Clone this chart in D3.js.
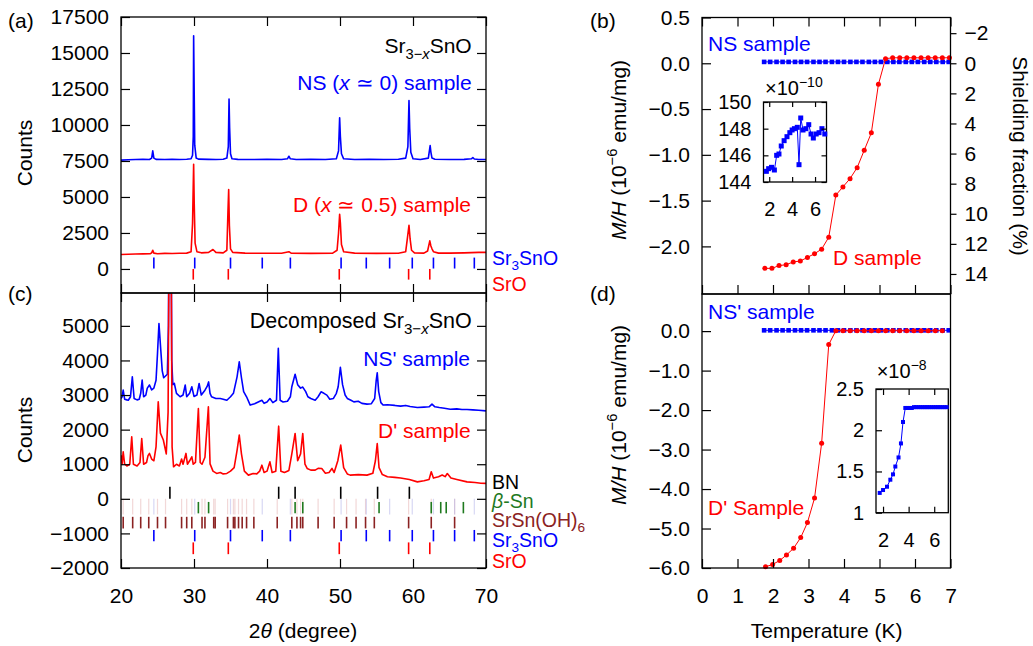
<!DOCTYPE html>
<html>
<head>
<meta charset="utf-8">
<script src="https://cdn.jsdelivr.net/npm/d3@7"></script>
<style>
  body { margin: 0; background: #fff; }
  svg text { font-family: "Liberation Sans", Arial, sans-serif; }
</style>
</head>
<body>
<svg id="chart" width="1033" height="646"></svg>
<script>
// ---- XRD data (2theta, counts) ----
const xrdNS = [[20,7560],[21,7590],[22,7600],[23,7610],[23.9,7600],[24.2,7700],[24.35,8200],[24.5,7700],[24.8,7610],[26,7600],[27,7620],[28,7600],[29,7620],[29.6,7650],[29.8,7900],[29.9,9200],[29.95,16200],[30.03,12100],[30.1,8600],[30.3,7700],[30.6,7630],[32,7610],[33,7600],[34,7620],[34.5,7700],[34.7,8500],[34.8,11800],[34.88,9800],[35.0,8000],[35.2,7650],[36,7610],[38,7600],[40,7610],[42,7600],[42.8,7650],[43.0,7830],[43.2,7650],[44,7600],[46,7610],[48,7600],[49.5,7650],[49.8,8200],[49.95,10500],[50.05,9200],[50.2,8000],[50.5,7650],[52,7600],[54,7610],[56,7600],[58,7620],[59.0,7700],[59.3,8500],[59.45,11700],[59.55,9750],[59.7,8100],[60,7650],[61,7600],[62.1,7700],[62.35,8570],[62.45,8120],[62.6,7700],[63,7620],[65,7600],[67,7610],[68.0,7650],[68.2,7740],[68.4,7640],[69,7600],[70,7600]];
const xrdD = [[20,1000],[21,1020],[22,1040],[23,1050],[24,1060],[24.2,1120],[24.35,1300],[24.5,1100],[25,1060],[26,1080],[27,1070],[28,1090],[29,1100],[29.6,1200],[29.8,3150],[29.95,7270],[30.03,4540],[30.15,1800],[30.4,1200],[31,1120],[32,1150],[32.6,1350],[33,1150],[34,1120],[34.5,1300],[34.65,3960],[34.75,5510],[34.85,3000],[35.0,1400],[35.3,1150],[37,1100],[40,1090],[42,1090],[43.0,1200],[43.3,1100],[46,1080],[49,1100],[49.6,1300],[49.8,2500],[49.95,3800],[50.05,3200],[50.2,1700],[50.5,1200],[52,1100],[55,1080],[58,1090],[59.0,1200],[59.2,2000],[59.45,3035],[59.6,2100],[59.8,1300],[60.2,1120],[61.5,1100],[62.0,1250],[62.3,1950],[62.45,1600],[62.6,1400],[62.8,1200],[63.5,1100],[65,1100],[67,1120],[69,1150],[70,1150]];
const xrdNSp = [[20.0,2900],[20.15,2950],[20.3,3142],[20.5,2880],[20.8,2860],[21.0,2850],[21.3,2950],[21.55,3530],[21.8,2900],[22.2,2860],[22.5,2880],[22.7,3050],[22.9,3430],[23.1,2950],[23.4,3000],[23.6,3200],[23.9,3290],[24.2,3150],[24.5,3200],[24.8,3430],[25.0,4200],[25.2,5070],[25.45,4300],[25.65,3700],[25.85,3500],[26.1,3550],[26.35,3600],[26.5,5000],[26.6,9000],[26.85,9000],[26.95,4000],[27.1,3300],[27.3,3340],[27.6,3050],[28.1,2950],[28.5,3000],[28.8,3290],[29.0,2950],[29.4,3050],[29.7,3240],[30.0,2960],[30.4,3000],[30.7,3335],[31.0,3000],[31.5,3140],[31.8,3250],[32.0,3380],[32.2,3050],[32.4,2950],[33.0,2900],[33.6,2900],[34.0,2880],[34.5,2850],[35.0,2950],[35.4,3050],[35.9,3526],[36.2,3960],[36.5,3500],[36.8,3100],[37.2,2950],[37.7,2710],[38.3,2750],[38.8,2800],[39.3,2850],[39.6,2760],[40.0,2800],[40.4,2900],[40.8,2780],[41.3,2850],[41.55,4350],[41.8,2850],[42.2,2800],[42.8,2820],[43.2,2950],[43.4,3240],[43.85,3600],[44.2,3300],[44.6,3200],[44.9,3230],[45.3,3100],[45.6,2950],[46.0,2900],[46.6,2850],[47.0,2950],[47.4,3093],[47.8,3050],[48.2,2998],[48.6,2880],[49.1,2902],[49.5,3050],[49.75,3240],[50.05,3800],[50.35,3300],[50.7,3000],[51.0,2902],[51.5,2850],[51.9,2803],[52.5,2820],[53.0,2760],[53.7,2737],[54.3,2750],[54.75,2900],[54.95,3400],[55.1,3640],[55.3,3100],[55.6,2780],[55.9,2710],[56.5,2720],[57.5,2700],[58.3,2680],[59.0,2700],[59.6,2670],[60.6,2640],[61.5,2650],[62.2,2660],[62.6,2737],[63.0,2660],[63.6,2640],[64.3,2620],[65.1,2590],[66.0,2600],[66.7,2580],[67.4,2583],[68.2,2570],[69.0,2560],[70.0,2543]];
const xrdDp = [[20.0,1263],[20.15,1000],[20.3,1360],[20.5,1000],[20.8,950],[21.2,1000],[21.47,1793],[21.7,1000],[22.2,950],[22.6,1050],[22.84,1745],[23.1,1000],[23.5,1050],[23.7,1250],[23.9,1312],[24.2,1150],[24.5,1100],[24.8,1500],[25.1,2803],[25.4,1900],[25.8,1700],[26.2,1300],[26.45,2500],[26.6,8000],[26.85,8000],[27.0,1500],[27.2,925],[27.6,1000],[28.0,950],[28.3,1150],[28.5,1000],[28.9,1312],[29.1,1000],[29.4,1100],[29.7,1215],[29.9,1000],[30.2,1050],[30.6,2612],[30.85,1050],[31.1,1000],[31.5,1200],[31.97,2659],[32.2,1010],[32.6,800],[33.1,734],[33.6,760],[34.0,720],[34.5,734],[35.0,800],[35.5,900],[35.9,1400],[36.2,1841],[36.5,1300],[36.9,800],[37.45,685],[38.1,734],[38.6,720],[39.0,800],[39.3,973],[39.6,760],[40.0,800],[40.4,1069],[40.7,760],[41.2,800],[41.6,2100],[41.9,800],[42.4,760],[43.0,820],[43.4,1300],[43.85,1890],[44.2,1100],[44.6,1300],[44.9,1890],[45.2,1000],[45.5,878],[46.0,830],[46.6,830],[47.0,880],[47.5,878],[48.0,740],[48.5,760],[48.9,878],[49.2,760],[49.7,1100],[50.1,1552],[50.5,900],[51.0,720],[51.4,685],[52.5,700],[53.7,685],[54.5,740],[54.85,1100],[55.1,1600],[55.35,900],[55.8,700],[56.5,636],[57.5,620],[58.3,600],[59.5,560],[60.6,490],[61.5,520],[62.2,560],[62.5,780],[62.8,600],[63.5,640],[64.0,690],[64.4,640],[64.7,730],[65.2,600],[66.0,560],[67.4,490],[68.5,470],[69.3,450],[70.0,445]];

// reference reflection positions (2theta)
const refSr3SnO = [24.5, 30.1, 35.0, 39.35, 43.2, 50.15, 53.6, 56.8, 59.9, 62.8, 65.7, 68.4];
const refSrO = [29.9, 34.7, 49.9, 59.4, 62.3];
const refBN = [26.7, 41.6, 43.85, 50.1, 55.15, 59.5];
const refBetaSn = [30.6, 32.0, 43.85, 44.9, 55.35, 62.5, 63.8, 64.55, 66.9];
const refSrSnOH6 = [20.3, 21.6, 22.7, 23.8, 25.0, 26.1, 28.3, 29.0, 29.7, 31.1, 31.5, 32.7, 32.9, 34.6, 35.4, 35.6, 36.1, 36.6, 37.2, 38.2, 41.4, 43.4, 44.1, 44.6, 44.9, 47.0, 49.2, 50.9, 52.2, 53.5, 54.7, 59.4, 62.5, 65.7];

// ---- magnetisation data ----
const tempNS = [1.75,1.92,2.10,2.27,2.44,2.62,2.79,2.96,3.14,3.31,3.48,3.66,3.83,4.00,4.18,4.35,4.52,4.70,4.87,5.04,5.22,5.39,5.56,5.74,5.91,6.08,6.26,6.43,6.60,6.78,6.95];
const mhNS = [0.015,0.015,0.015,0.015,0.015,0.015,0.015,0.015,0.015,0.015,0.015,0.015,0.015,0.015,0.015,0.015,0.015,0.015,0.015,0.015,0.015,0.015,0.015,0.015,0.015,0.015,0.015,0.015,0.015,0.015,0.015];
const tempD = [1.77,1.97,2.17,2.37,2.57,2.77,2.97,3.17,3.37,3.57,3.77,3.97,4.17,4.37,4.57,4.77,4.97,5.17,5.37,5.57,5.77,5.97,6.17,6.37,6.57,6.77,6.97];
const mhD = [-2.24,-2.24,-2.21,-2.20,-2.17,-2.16,-2.12,-2.08,-2.03,-1.90,-1.44,-1.35,-1.26,-1.14,-0.95,-0.76,-0.23,0.05,0.06,0.06,0.06,0.06,0.06,0.06,0.06,0.06,0.06];
const tempNSp = [1.75,1.92,2.10,2.27,2.44,2.62,2.79,2.96,3.14,3.31,3.48,3.66,3.83,4.00,4.18,4.35,4.52,4.70,4.87,5.04,5.22,5.39,5.56,5.74,5.91,6.08,6.26,6.43,6.60,6.78,6.95];
const mhNSp = [0.02,0.02,0.02,0.02,0.02,0.02,0.02,0.02,0.02,0.02,0.02,0.02,0.02,0.02,0.02,0.02,0.02,0.02,0.02,0.02,0.02,0.02,0.02,0.02,0.02,0.02,0.02,0.02,0.02,0.02,0.02];
const tempDp = [1.79,1.99,2.19,2.38,2.58,2.78,2.97,3.17,3.37,3.57,3.77,3.97,4.17,4.37,4.57,4.77,4.97,5.17,5.37,5.57,5.77,5.97,6.17,6.37,6.57,6.77];
const mhDp = [-5.97,-5.91,-5.81,-5.67,-5.50,-5.23,-4.85,-4.23,-2.84,-0.34,0.01,0.01,0.01,0.01,0.01,0.01,0.01,0.01,0.01,0.01,0.01,0.01,0.01,0.01,0.01,0.01];
// insets (NS: x1e-10, NS': x1e-8 emu)
const insetNSTemp = [1.75,1.95,2.2,2.45,2.65,2.85,3.05,3.3,3.55,3.8,4.0,4.2,4.45,4.6,4.75,4.95,5.2,5.45,5.65,5.85,6.1,6.35,6.6,6.85];
const insetNSVal = [144.8,145.0,145.1,144.9,146.0,146.1,146.7,147.1,147.4,147.7,147.9,148.0,148.1,145.3,148.8,147.9,148.0,148.3,147.6,147.3,147.6,147.7,148.0,147.6];
const insetNSpTemp = [1.74,2.0,2.31,2.57,2.78,2.96,3.21,3.40,3.56,3.74,3.91,4.08,4.25,4.42,4.59,4.76,4.93,5.10,5.27,5.44,5.61,5.78,5.95,6.12,6.29,6.46,6.63,6.80,6.97];
const insetNSpVal = [1.24,1.275,1.315,1.40,1.465,1.56,1.67,1.84,2.10,2.27,2.27,2.27,2.27,2.28,2.28,2.28,2.28,2.28,2.28,2.28,2.28,2.28,2.28,2.28,2.28,2.28,2.28,2.28,2.28];

// ---- tick values ----
const ticksCountsA = [0, 2500, 5000, 7500, 10000, 12500, 15000, 17500];
const ticksCountsC = [-2000, -1000, 0, 1000, 2000, 3000, 4000, 5000];
const ticks2Theta = [20, 30, 40, 50, 60, 70];
const ticksMHb = [0.5, 0.0, -0.5, -1.0, -1.5, -2.0];
const ticksShield = [-2, 0, 2, 4, 6, 8, 10, 12, 14];
const ticksMHd = [0, -1, -2, -3, -4, -5, -6];
const ticksTemp = [0, 1, 2, 3, 4, 5, 6, 7];
const ticksInnerT = [2, 4, 6];
const ticksInsetB = [144, 146, 148, 150];
const ticksInsetD = [1, 1.5, 2, 2.5];

const BLUE = "#0000ff", RED = "#ff0000", GREEN = "#1f7a1f", BROWN = "#8b2222";
const SHIELD_K = 6.084; // % shielding per 1e-6 emu/mg
const SIDE_FS = 19.5;   // phase labels right of (a)/(c)

const svg = d3.select("#chart");

// panels
const P = {
    a: { x0: 121, x1: 486, y0: 17, y1: 293 },
    c: { x0: 121, x1: 486, y0: 293, y1: 568 },
    b: { x0: 702, x1: 950.5, y0: 17.5, y1: 294 },
    d: { x0: 702, x1: 950.5, y0: 294, y1: 568 },
    ib: { x0: 763.5, x1: 826.5, y0: 102, y1: 182 },
    id: { x0: 876, x1: 948.3, y0: 389, y1: 512.7 }
};

const x2t = d3.scaleLinear().domain([20, 70]).range([P.a.x0, P.a.x1]);
const yA = d3.scaleLinear().domain([-1670, 17500]).range([P.a.y1, P.a.y0]);
const yC = d3.scaleLinear().domain([-2000, 5950]).range([P.c.y1, P.c.y0]);
const xT = d3.scaleLinear().domain([0, 7]).range([P.b.x0, P.b.x1]);
const yB = d3.scaleLinear().domain([-2.52, 0.5]).range([P.b.y1, P.b.y0]);
const yR = d3.scaleLinear().domain([2.52 * SHIELD_K, -0.5 * SHIELD_K]).range([P.b.y1, P.b.y0]);
const yD = d3.scaleLinear().domain([-6, 0.94]).range([P.d.y1, P.d.y0]);
const xIB = d3.scaleLinear().domain([1.5, 7.0]).range([P.ib.x0, P.ib.x1]);
const yIB = d3.scaleLinear().domain([144, 150]).range([P.ib.y1, P.ib.y0]);
const xID = d3.scaleLinear().domain([1.45, 7.1]).range([P.id.x0, P.id.x1]);
const yID = d3.scaleLinear().domain([1, 2.5]).range([P.id.y1, P.id.y0]);

const defs = svg.append("defs");
["a", "c"].forEach(k => {
    defs.append("clipPath").attr("id", "clip-" + k).append("rect")
        .attr("x", P[k].x0).attr("y", P[k].y0)
        .attr("width", P[k].x1 - P[k].x0).attr("height", P[k].y1 - P[k].y0);
});

// ---- helpers ----
function frame(p, fill) {
    svg.append("rect")
        .attr("x", p.x0).attr("y", p.y0)
        .attr("width", p.x1 - p.x0).attr("height", p.y1 - p.y0)
        .attr("fill", fill || "none").attr("stroke", "#000").attr("stroke-width", 1.3);
}

function addAxis(gen, tx, ty, fs) {
    const g = svg.append("g").attr("transform", `translate(${tx},${ty})`).call(gen);
    g.select(".domain").remove();
    g.attr("font-family", "Liberation Sans, Arial, sans-serif").attr("font-size", fs || 21);
    g.selectAll("line").attr("stroke", "#000").attr("stroke-width", 1.2);
    g.selectAll("text").attr("fill", "#000");
    return g;
}
const noLabel = () => "";

// text with sub/superscripts and italics
function rich(x, y, parts, opt = {}) {
    const fs = opt.fs || 21;
    const t = svg.append("text").attr("x", x).attr("y", y)
        .attr("font-size", fs).attr("fill", opt.fill || "#000")
        .attr("text-anchor", opt.anchor || "start");
    if (opt.rotate) t.attr("transform", `rotate(${opt.rotate},${x},${y})`);
    let cur = 0;
    parts.forEach(p => {
        if (typeof p === "string") p = { t: p };
        const shift = p.sub ? 0.28 * fs : p.sup ? -0.42 * fs : 0;
        const ts = t.append("tspan").attr("dy", shift - cur).text(p.t);
        if (p.sub || p.sup) ts.attr("font-size", fs * 0.7);
        if (p.i) ts.attr("font-style", "italic");
        cur = shift;
    });
    return t;
}

function trace(data, yScale, color, clip) {
    svg.append("path")
        .datum(data)
        .attr("clip-path", `url(#clip-${clip})`)
        .attr("fill", "none").attr("stroke", color).attr("stroke-width", 1.6)
        .attr("stroke-linejoin", "round")
        .attr("d", d3.line().x(d => x2t(d[0])).y(d => yScale(d[1])));
}

function refTicks(pos, yScale, lo, hi, color, width, opacity) {
    svg.append("g").selectAll("line").data(pos).enter().append("line")
        .attr("x1", d => x2t(d)).attr("x2", d => x2t(d))
        .attr("y1", yScale(hi)).attr("y2", yScale(lo))
        .attr("stroke", color).attr("stroke-width", width || 1.6)
        .attr("opacity", opacity == null ? 1 : opacity);
}

function series(ts, vs, xs, ys, color, shape, size) {
    const pts = ts.map((t, i) => [t, vs[i]]);
    const g = svg.append("g");
    g.append("path").datum(pts)
        .attr("fill", "none").attr("stroke", color).attr("stroke-width", 1)
        .attr("d", d3.line().x(d => xs(d[0])).y(d => ys(d[1])));
    if (shape === "square") {
        g.selectAll("rect").data(pts).enter().append("rect")
            .attr("x", d => xs(d[0]) - size / 2).attr("y", d => ys(d[1]) - size / 2)
            .attr("width", size).attr("height", size).attr("fill", color);
    } else {
        g.selectAll("circle").data(pts).enter().append("circle")
            .attr("cx", d => xs(d[0])).attr("cy", d => ys(d[1]))
            .attr("r", size).attr("fill", color);
    }
}

// ---- (a) XRD ----
trace(xrdNS, yA, BLUE, "a");
trace(xrdD, yA, RED, "a");
refTicks(refSr3SnO, yA, 30, 790, BLUE);
refTicks(refSrO, yA, -740, 0, RED);

// ---- (c) XRD decomposed ----
trace(xrdNSp, yC, BLUE, "c");
trace(xrdDp, yC, RED, "c");
refTicks(refSrSnOH6, yC, -450, 0, "#e3a9a9", 1.2, 0.45);
refTicks(refSr3SnO, yC, -450, 0, "#a9a9e8", 1.2, 0.45);
refTicks(refBN, yC, 0, 350, "#000");
refTicks(refBetaSn, yC, -420, -90, GREEN);
refTicks(refSrSnOH6, yC, -855, -520, BROWN);
refTicks(refSr3SnO, yC, -1230, -900, BLUE);
refTicks(refSrO, yC, -1600, -1260, RED);

frame(P.a);
frame(P.c);

addAxis(d3.axisLeft(yA).tickValues(ticksCountsA).tickFormat(d3.format("d")).tickSizeInner(-9).tickSizeOuter(0).tickPadding(12), P.a.x0, 0);
addAxis(d3.axisRight(yA).tickValues(ticksCountsA).tickFormat(noLabel).tickSizeInner(-9).tickSizeOuter(0), P.a.x1, 0);
addAxis(d3.axisTop(x2t).tickValues(ticks2Theta).tickFormat(noLabel).tickSizeInner(-9).tickSizeOuter(0), 0, P.a.y0);
addAxis(d3.axisBottom(x2t).tickValues(ticks2Theta).tickFormat(noLabel).tickSizeInner(-9).tickSizeOuter(0), 0, P.a.y1);

addAxis(d3.axisLeft(yC).tickValues(ticksCountsC).tickFormat(d3.format("d")).tickSizeInner(-9).tickSizeOuter(0).tickPadding(12), P.c.x0, 0);
addAxis(d3.axisRight(yC).tickValues(ticksCountsC).tickFormat(noLabel).tickSizeInner(-9).tickSizeOuter(0), P.c.x1, 0);
addAxis(d3.axisTop(x2t).tickValues(ticks2Theta).tickFormat(noLabel).tickSizeInner(-9).tickSizeOuter(0), 0, P.c.y0);
addAxis(d3.axisBottom(x2t).tickValues(ticks2Theta).tickFormat(d3.format("d")).tickSizeInner(-9).tickSizeOuter(0).tickPadding(20), 0, P.c.y1);

// ---- (b) M/H ----
series(tempNS, mhNS, xT, yB, BLUE, "square", 4.6);
series(tempD, mhD, xT, yB, RED, "circle", 2.5);
frame(P.b);
addAxis(d3.axisLeft(yB).tickValues(ticksMHb).tickFormat(d3.format(".1f")).tickSizeInner(-9).tickSizeOuter(0).tickPadding(12), P.b.x0, 0);
addAxis(d3.axisRight(yR).tickValues(ticksShield).tickFormat(d3.format("d")).tickSizeInner(6).tickSizeOuter(0).tickPadding(8), P.b.x1, 0);
addAxis(d3.axisTop(xT).tickValues(ticksTemp).tickFormat(noLabel).tickSizeInner(-9).tickSizeOuter(0), 0, P.b.y0);
addAxis(d3.axisBottom(xT).tickValues(ticksTemp).tickFormat(noLabel).tickSizeInner(-9).tickSizeOuter(0), 0, P.b.y1);

// inset (b)
frame(P.ib, "#fff");
series(insetNSTemp, insetNSVal, xIB, yIB, BLUE, "square", 5);
addAxis(d3.axisLeft(yIB).tickValues(ticksInsetB).tickFormat(d3.format("d")).tickSizeInner(-5).tickSizeOuter(0).tickPadding(12), P.ib.x0, 0, 20);
addAxis(d3.axisRight(yIB).tickValues(ticksInsetB).tickFormat(noLabel).tickSizeInner(-5).tickSizeOuter(0), P.ib.x1, 0);
addAxis(d3.axisTop(xIB).tickValues(ticksInnerT).tickFormat(noLabel).tickSizeInner(-5).tickSizeOuter(0), 0, P.ib.y0);
addAxis(d3.axisBottom(xIB).tickValues(ticksInnerT).tickFormat(d3.format("d")).tickSizeInner(-5).tickSizeOuter(0).tickPadding(20), 0, P.ib.y1, 20);

// ---- (d) M/H ----
series(tempNSp, mhNSp, xT, yD, BLUE, "square", 4.6);
series(tempDp, mhDp, xT, yD, RED, "circle", 2.5);
frame(P.d);
addAxis(d3.axisLeft(yD).tickValues(ticksMHd).tickFormat(d3.format(".1f")).tickSizeInner(-9).tickSizeOuter(0).tickPadding(12), P.d.x0, 0);
addAxis(d3.axisBottom(xT).tickValues(ticksTemp).tickFormat(d3.format("d")).tickSizeInner(-9).tickSizeOuter(0).tickPadding(20), 0, P.d.y1);

// inset (d)
frame(P.id, "#fff");
series(insetNSpTemp, insetNSpVal, xID, yID, BLUE, "square", 4);
addAxis(d3.axisLeft(yID).tickValues(ticksInsetD).tickFormat(d => d).tickSizeInner(-6).tickSizeOuter(0).tickPadding(12), P.id.x0, 0, 20);
addAxis(d3.axisTop(xID).tickValues(ticksInnerT).tickFormat(noLabel).tickSizeInner(-6).tickSizeOuter(0), 0, P.id.y0);
addAxis(d3.axisBottom(xID).tickValues(ticksInnerT).tickFormat(d3.format("d")).tickSizeInner(-6).tickSizeOuter(0).tickPadding(20), 0, P.id.y1, 20);

// ---- texts ----
rich(8, 28, ["(a)"]);
rich(590, 28, ["(b)"]);
rich(8, 301, ["(c)"]);
rich(590, 301, ["(d)"]);

rich(471.7, 53, ["Sr", { t: "3−", sub: 1 }, { t: "x", sub: 1, i: 1 }, "SnO"], { anchor: "end" });
rich(471.7, 90, ["NS (", { t: "x", i: 1 }, " ≃ 0) sample"], { anchor: "end", fill: BLUE });
rich(471, 211.7, ["D (", { t: "x", i: 1 }, " ≃ 0.5) sample"], { anchor: "end", fill: RED });
rich(492, 265, ["Sr", { t: "3", sub: 1 }, "SnO"], { fs: SIDE_FS, fill: BLUE });
rich(492, 291, ["SrO"], { fs: SIDE_FS, fill: RED });

rich(471.7, 328, ["Decomposed Sr", { t: "3−", sub: 1 }, { t: "x", sub: 1, i: 1 }, "SnO"], { anchor: "end", fs: 21.5 });
rich(470, 366, ["NS' sample"], { anchor: "end", fill: BLUE });
rich(470.7, 438, ["D' sample"], { anchor: "end", fill: RED });
rich(492, 489, ["BN"], { fs: SIDE_FS });
rich(492, 507.5, [{ t: "β", i: 1 }, "-Sn"], { fs: SIDE_FS, fill: GREEN });
rich(492, 527, ["SrSn(OH)", { t: "6", sub: 1 }], { fs: SIDE_FS, fill: BROWN });
rich(492, 547, ["Sr", { t: "3", sub: 1 }, "SnO"], { fs: SIDE_FS, fill: BLUE });
rich(492, 568, ["SrO"], { fs: SIDE_FS, fill: RED });

rich(708, 51, ["NS sample"], { fill: BLUE });
rich(833, 265, ["D sample"], { fill: RED });
rich(708, 319, ["NS' sample"], { fill: BLUE });
rich(708, 515, ["D' Sample"], { fill: RED });
rich(765, 95, ["×10", { t: "−10", sup: 1 }], { fs: 20 });
rich(876.7, 378, ["×10", { t: "−8", sup: 1 }], { fs: 20 });

// axis titles
rich(32, 153, ["Counts"], { anchor: "middle", rotate: -90 });
rich(32, 430, ["Counts"], { anchor: "middle", rotate: -90 });
rich(303, 638, ["2", { t: "θ", i: 1 }, " (degree)"], { anchor: "middle" });
rich(826.7, 638, ["Temperature (K)"], { anchor: "middle" });
rich(626, 150, [{ t: "M/H", i: 1 }, " (10", { t: "−6", sup: 1 }, " emu/mg)"], { anchor: "middle", rotate: -90 });
rich(626, 415, [{ t: "M/H", i: 1 }, " (10", { t: "−6", sup: 1 }, " emu/mg)"], { anchor: "middle", rotate: -90 });
rich(1013, 156, ["Shielding fraction (%)"], { anchor: "middle", rotate: 90 });
</script>
</body>
</html>
